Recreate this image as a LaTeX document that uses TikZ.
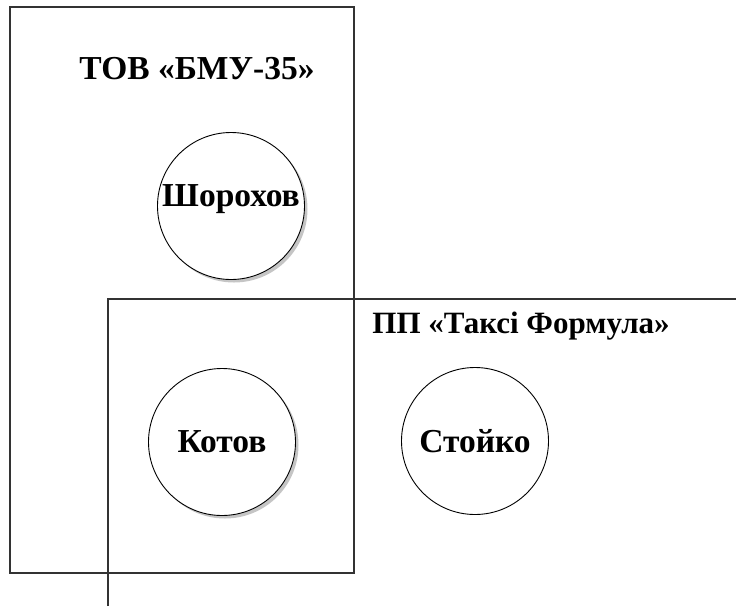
\documentclass[tikz,border=0pt]{standalone}
\usepackage{fontspec}
\setmainfont{Liberation Serif}
\usetikzlibrary{shadows}
\tikzset{
  firm/.style={draw=black!80, line width=1.5pt},
  firmname/.style={font=\bfseries\fontsize{33.5}{38}\selectfont},
  person/.style={circle, draw, line width=0.9pt, fill=white, inner sep=0pt,
    minimum size=147pt, font=\bfseries\fontsize{33.5}{38}\selectfont},
  personshadow/.style={person, drop shadow={shadow xshift=3pt, shadow yshift=-3pt, fill=black!45}}
}
\begin{document}
\begin{tikzpicture}[x=1pt, y=-1pt]
\useasboundingbox (0,0) rectangle (736,606);
% first firm
\draw[firm] (10,7) rectangle (354,573);
\node[firmname] (bmu) at (197,69) {ТОВ «БМУ-35»};
% second firm, runs past the page
\coordinate (tf1) at (108,606);
\coordinate (tf2) at (108,299);
\coordinate (tf3) at (736,299);
\draw[firm] (tf1) -- (tf2) -- (tf3);
\node[firmname, font=\bfseries\fontsize{31}{36}\selectfont] (taxi) at (521,326) {ПП «Таксі Формула»};
% people
\node[personshadow, text height=22pt, text depth=21pt] (shorokhov) at (231,206) {Шорохов};
\node[personshadow] (kotov) at (222,442) {Котов};
\node[person] (stoiko) at (475,441) {Стойко};
\end{tikzpicture}
\end{document}
